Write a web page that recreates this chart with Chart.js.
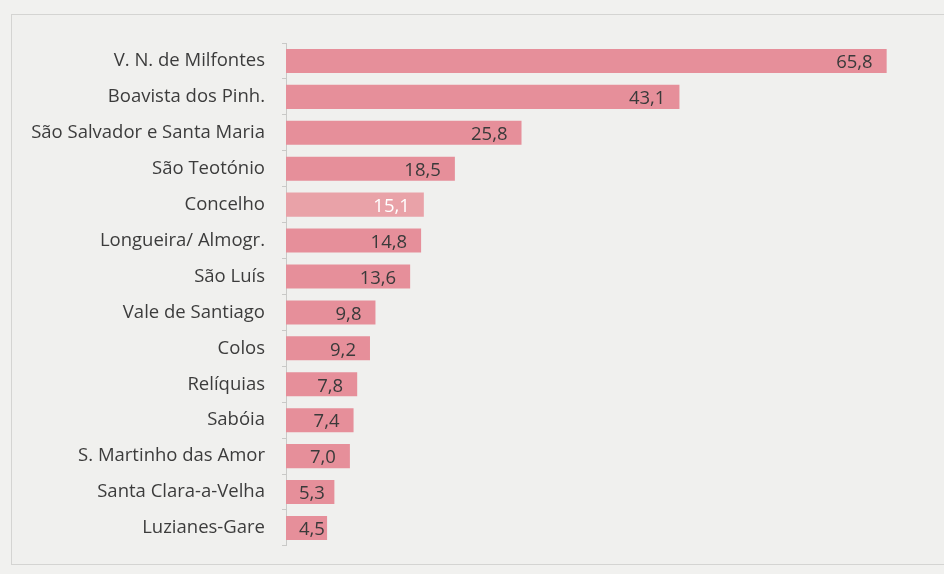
<!DOCTYPE html>
<html lang="pt">
<head>
  <meta charset="UTF-8" />
  <title>Freguesias</title>
  <script src="https://cdn.jsdelivr.net/npm/chart.js"></script>
  <style>
    html, body {
      margin: 0;
      padding: 0;
      background: #f1f1ef;
    }
    #frame {
      position: absolute;
      left: 11px;
      top: 14px;
      width: 950px;
      height: 549px;
      border: 1px solid #d4d4d2;
      background: #f0f0ee;
    }
    #wrap {
      position: absolute;
      left: 0;
      top: 0;
      width: 944px;
      height: 574px;
    }
  </style>
</head>
<body>
  <div id="frame"></div>
  <div id="wrap"><canvas id="bars"></canvas></div>

  <script>
    const categories = [
      'V. N. de Milfontes', 'Boavista dos Pinh.', 'São Salvador e Santa Maria',
      'São Teotónio', 'Concelho', 'Longueira/ Almogr.', 'São Luís',
      'Vale de Santiago', 'Colos', 'Relíquias', 'Sabóia',
      'S. Martinho das Amor', 'Santa Clara-a-Velha', 'Luzianes-Gare'
    ];
    const values = [65.8, 43.1, 25.8, 18.5, 15.1, 14.8, 13.6, 9.8, 9.2, 7.8, 7.4, 7.0, 5.3, 4.5];
    const highlight = 'Concelho';

    const barColor = '#e68f9a';
    const highlightColor = '#e9a2a8';
    const fontFamily = '"Open Sans", sans-serif';

    // value labels at the inside end of each bar, like the spreadsheet original
    const valueLabels = {
      id: 'valueLabels',
      afterDatasetsDraw(chart) {
        const ctx = chart.ctx;
        const meta = chart.getDatasetMeta(0);
        ctx.save();
        ctx.font = '18.5px ' + fontFamily;
        ctx.textBaseline = 'middle';
        ctx.textAlign = 'left';
        meta.data.forEach((bar, i) => {
          const txt = values[i].toFixed(1).replace('.', ',');
          const w = ctx.measureText(txt).width;
          let left = bar.x - 14 - w;
          if (left < bar.base + 13) left = bar.base + 13;
          ctx.fillStyle = categories[i] === highlight ? '#ffffff' : '#3a3a3a';
          ctx.fillText(txt, left, bar.y + 2);
        });
        ctx.restore();
      }
    };

    new Chart(document.getElementById('bars'), {
      type: 'bar',
      data: {
        labels: categories,
        datasets: [{
          data: values,
          backgroundColor: categories.map(c => c === highlight ? highlightColor : barColor),
          categoryPercentage: 1,
          barPercentage: 0.67
        }]
      },
      options: {
        indexAxis: 'y',
        responsive: true,
        maintainAspectRatio: false,
        animation: false,
        layout: { padding: { top: 43, bottom: 28, right: 19, left: 0 } },
        plugins: {
          legend: { display: false },
          tooltip: { enabled: false }
        },
        scales: {
          x: {
            display: false,
            min: 0,
            max: 70
          },
          y: {
            afterFit(scale) { scale.width = 286; },
            grid: {
              drawOnChartArea: false,
              tickLength: 4,
              offset: true,
              color: '#c9c9c7'
            },
            border: { color: '#c9c9c7' },
            ticks: {
              padding: 17,
              color: '#3c3c3c',
              font: { family: fontFamily, size: 18.5 }
            }
          }
        }
      },
      plugins: [valueLabels]
    });
  </script>
</body>
</html>
